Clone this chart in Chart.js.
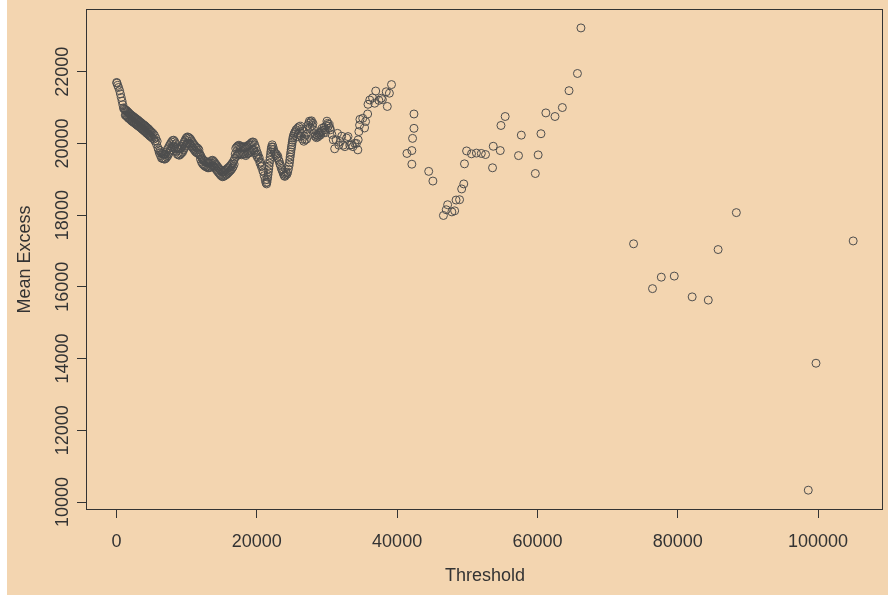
<!DOCTYPE html>
<html>
<head>
<meta charset="utf-8">
<script src="https://cdn.jsdelivr.net/npm/chart.js@4"></script>
<style>
  html, body { margin: 0; padding: 0; background: #fff; }
  #plot { display: block; background: linear-gradient(to right, #ffffff 0px, #ffffff 7px, #f3d5b0 7px); }
</style>
</head>
<body>
<canvas id="plot" width="888" height="595"></canvas>
<script>
// Mean excess plot in pieces (threshold, mean excess)
const thrA = [30, 60, 170, 300, 450, 560, 680, 800, 900, 1000, 1100];
const meA  = [21700, 21680, 21620, 21560, 21470, 21380, 21280, 21180, 21080, 20990, 20960];

const thrB = [
  1200, 1250, 1300, 1350, 1400, 1450, 1500, 1550, 1600, 1650, 1700, 1750,
  1800, 1850, 1900, 1950, 2000, 2050, 2100, 2150, 2200, 2250, 2300, 2350,
  2400, 2450, 2500, 2550, 2600, 2650, 2700, 2750, 2800, 2850, 2900, 2950,
  3000, 3050, 3100, 3150, 3200, 3250, 3300, 3350, 3400, 3450, 3500, 3550,
  3600, 3650, 3700, 3750, 3800, 3850, 3900, 3950, 4000, 4050, 4100, 4150,
  4200, 4250, 4300, 4350, 4400, 4450, 4500, 4550, 4600, 4650, 4700, 4750,
  4800, 4850, 4900, 4950, 5000, 5100, 5200, 5300, 5400, 5500, 5600, 5700,
  5800, 5900, 6000, 6100
];
const meB = [
  20950, 20790, 20930, 20780, 20920, 20760, 20900, 20740, 20880, 20720, 20860, 20700,
  20840, 20690, 20820, 20670, 20800, 20650, 20790, 20630, 20770, 20620, 20760, 20600,
  20740, 20590, 20730, 20570, 20710, 20560, 20700, 20540, 20680, 20530, 20670, 20510,
  20650, 20500, 20640, 20480, 20620, 20470, 20600, 20450, 20590, 20440, 20570, 20420,
  20560, 20400, 20540, 20390, 20520, 20370, 20510, 20350, 20500, 20340, 20480, 20320,
  20460, 20300, 20440, 20280, 20430, 20270, 20410, 20250, 20390, 20230, 20370, 20210,
  20350, 20200, 20330, 20180, 20310, 20150, 20280, 20120, 20230, 20060, 20150, 19980,
  20060, 19880, 19820, 19740
];

const thrC = [
  6200, 6275, 6350, 6425, 6500, 6575, 6650, 6725, 6800, 6875, 6950, 7025,
  7100, 7175, 7250, 7325, 7400, 7475, 7550, 7625, 7700, 7775, 7850, 7925,
  8000, 8075, 8150, 8225, 8300, 8375, 8450, 8525, 8600, 8675, 8750, 8825,
  8900, 8975, 9050, 9125, 9200, 9275, 9350, 9425, 9500, 9575, 9650, 9725,
  9800, 9875, 9950, 10025, 10100, 10175, 10250, 10325, 10400, 10475, 10550, 10625,
  10700, 10775, 10850, 10925, 11000, 11075, 11150, 11225, 11300, 11375, 11450, 11525,
  11600, 11675, 11750, 11825
];
const meC = [
  19800, 19660, 19740, 19590, 19720, 19580, 19700, 19570, 19690, 19560, 19700, 19580,
  19760, 19620, 19830, 19660, 19880, 19720, 19940, 19780, 19990, 19820, 20040, 19880,
  20080, 19920, 20090, 19900, 20050, 19850, 19990, 19780, 19900, 19700, 19860, 19680,
  19840, 19670, 19850, 19700, 19880, 19730, 19920, 19760, 19980, 19820, 20040, 19880,
  20100, 19930, 20150, 19980, 20180, 20010, 20170, 20000, 20150, 19980, 20120, 19940,
  20070, 19900, 20020, 19860, 19980, 19820, 19940, 19780, 19900, 19750, 19880, 19730,
  19860, 19720, 19820, 19680
];

const thrD = [
  11900, 11975, 12050, 12125, 12200, 12275, 12350, 12425, 12500, 12575, 12650, 12725,
  12800, 12875, 12950, 13025, 13100, 13175, 13250, 13325, 13400, 13475, 13550, 13625,
  13700, 13775, 13850, 13925, 14000, 14075, 14150, 14225, 14300, 14375, 14450, 14525,
  14600, 14675, 14750, 14825, 14900, 14975, 15050, 15125, 15200, 15275, 15350, 15425,
  15500, 15575, 15650, 15725, 15800, 15875, 15950, 16025, 16100, 16175, 16250, 16325,
  16400, 16475, 16550, 16625, 16700, 16775, 16850
];
const meD = [
  19700, 19560, 19640, 19480, 19580, 19430, 19540, 19400, 19520, 19370, 19500, 19350,
  19480, 19340, 19460, 19320, 19450, 19320, 19460, 19330, 19490, 19360, 19520, 19380,
  19530, 19380, 19500, 19350, 19460, 19310, 19420, 19270, 19380, 19230, 19340, 19190,
  19300, 19160, 19270, 19120, 19240, 19090, 19210, 19070, 19200, 19080, 19220, 19100,
  19250, 19120, 19270, 19140, 19300, 19170, 19320, 19200, 19350, 19230, 19380, 19260,
  19420, 19300, 19460, 19350, 19510, 19420, 19580
];

const thrE = [
  16925, 17000, 17075, 17150, 17225, 17300, 17375, 17450, 17525, 17600, 17675, 17750,
  17825, 17900, 17975, 18050, 18125, 18200, 18275, 18350, 18425, 18500, 18575, 18650,
  18725, 18800, 18875, 18950, 19025, 19100, 19175, 19250, 19325, 19400, 19475, 19550,
  19625, 19700, 19775, 19850, 19925, 20000, 20075, 20150, 20250, 20350, 20450, 20550,
  20650, 20750, 20850, 20950
];
const meE = [
  19700, 19860, 19640, 19900, 19680, 19930, 19700, 19950, 19720, 19930, 19700, 19900,
  19680, 19890, 19700, 19900, 19710, 19910, 19700, 19880, 19660, 19900, 19700, 19920,
  19720, 19950, 19730, 19960, 19750, 19990, 19780, 20020, 19820, 20040, 19830, 20030,
  19800, 19960, 19740, 19880, 19680, 19780, 19620, 19700, 19560, 19600, 19450, 19480,
  19350, 19370, 19240, 19200
];

const thrF = [
  21050, 21200, 21300, 21400, 21450, 21500, 21550, 21600, 21650, 21700, 21750, 21800,
  21850, 21900, 21950, 22000, 22050, 22100, 22200, 22300, 22400, 22500
];
const meF = [
  19100, 18980, 18900, 18870, 18920, 18990, 19060, 19130, 19210, 19290, 19370, 19450,
  19530, 19610, 19690, 19770, 19840, 19900, 19960, 19900, 19830, 19760
];

const thrG = [
  22600, 22700, 22800, 22900, 23000, 23100, 23200, 23300, 23400, 23500, 23600, 23700,
  23800, 23900, 24000, 24100, 24200, 24300, 24400, 24500, 24600, 24650, 24700, 24750,
  24800, 24850, 24900, 24950, 25000, 25050, 25100, 25150, 25200, 25300, 25400, 25500
];
const meG = [
  19720, 19660, 19700, 19600, 19640, 19540, 19500, 19420, 19380, 19300, 19260, 19200,
  19150, 19100, 19080, 19120, 19180, 19140, 19200, 19280, 19380, 19460, 19540, 19620,
  19690, 19760, 19830, 19900, 19960, 20030, 20090, 20150, 20200, 20260, 20300, 20330
];

const thrH = [
  25600, 25700, 25800, 25900, 26000, 26100, 26200, 26300, 26400, 26500, 26600, 26700,
  26800, 26900, 27000, 27100, 27200, 27300, 27400, 27500, 27600, 27700, 27800, 27900,
  28000, 28100, 28200, 28300, 28400, 28500, 28600, 28700, 28800, 28900, 29000, 29100,
  29200, 29300, 29400, 29500, 29600, 29700, 29800, 29900, 30000, 30100, 30200, 30300,
  30400, 30500
];
const meH = [
  20380, 20180, 20420, 20250, 20460, 20300, 20480, 20200, 20400, 20120, 20350, 20060,
  20200, 20100, 20250, 20120, 20400, 20500, 20560, 20620, 20450, 20600, 20630, 20500,
  20560, 20380, 20280, 20200, 20250, 20160, 20230, 20180, 20280, 20220, 20300, 20240,
  20330, 20420, 20360, 20300, 20450, 20380, 20300, 20500, 20620, 20560, 20480, 20530,
  20430, 20380
];

const thrI = [
  30700, 30900, 31100, 31300, 31500, 31700, 31900, 32100, 32300, 32550, 32800, 33000,
  33250, 33500, 33700, 33950, 34200, 34400, 34450, 34550, 34650, 34700, 35100, 35350,
  35500, 35800, 35850, 36100, 36500, 36800, 36950, 37400, 37750, 37900, 38450, 38600,
  38900, 39200
];
const meI = [
  20250, 20100, 19850, 20100, 20280, 19950, 20050, 20200, 19950, 19910, 20150, 20190,
  19950, 19960, 19910, 20000, 20000, 19820, 20100, 20330, 20510, 20670, 20700, 20430,
  20610, 20820, 21090, 21210, 21270, 21120, 21460, 21200, 21260, 21220, 21440, 21030,
  21400, 21640
];

const thrJ = [
  41400, 42100, 42100, 42200, 42400, 42400, 44500, 45100, 46600, 47000, 47200, 47800,
  48200, 48400, 48900, 49200, 49500, 49600, 49900, 50600, 51300, 52000, 52600, 53600,
  53700, 54700, 54800, 55400, 57300, 57700, 59700, 60100, 60500, 61200, 62500, 63550,
  64500, 65700, 66200
];
const meJ = [
  19720, 19800, 19420, 20140, 20420, 20820, 19220, 18950, 17990, 18150, 18290, 18090,
  18120, 18420, 18430, 18730, 18870, 19430, 19790, 19710, 19730, 19720, 19690, 19320,
  19920, 19800, 20500, 20750, 19660, 20230, 19160, 19680, 20270, 20850, 20750, 21000,
  21470, 21950, 23220
];

const thrK = [73700, 76400, 77650, 79500, 82050, 84350, 85750, 88350, 98600, 99700, 105000];
const meK  = [17200, 15950, 16270, 16300, 15720, 15630, 17040, 18070, 10330, 13870, 17280];

const xTicks = [0, 20000, 40000, 60000, 80000, 100000];
const yTicks = [10000, 12000, 14000, 16000, 18000, 20000, 22000];

const threshold = [].concat(thrA, thrB, thrC, thrD, thrE, thrF, thrG, thrH, thrI, thrJ, thrK);
const meanExcess = [].concat(meA, meB, meC, meD, meE, meF, meG, meH, meI, meJ, meK);
if (threshold.length !== meanExcess.length) {
  console.error('length mismatch', threshold.length, meanExcess.length);
}
const points = threshold.map((t, i) => ({ x: t, y: meanExcess[i] }));

const fontFamily = "'Liberation Sans', Arial, sans-serif";
const ink = '#333333';

// R style box around the plot region
const boxPlugin = {
  id: 'box',
  afterDraw(chart) {
    const { ctx, chartArea: a } = chart;
    ctx.save();
    ctx.strokeStyle = ink;
    ctx.lineWidth = 1;
    ctx.strokeRect(a.left - 0.5, a.top - 0.5, a.right - a.left, a.bottom - a.top + 1);
    ctx.restore();
  }
};

new Chart(document.getElementById('plot'), {
  type: 'scatter',
  data: {
    datasets: [{
      data: points,
      pointStyle: 'circle',
      pointRadius: 4,
      pointHoverRadius: 4,
      borderColor: '#4d4d4d',
      backgroundColor: 'rgba(0,0,0,0)',
      pointBorderWidth: 1
    }]
  },
  options: {
    responsive: false,
    animation: false,
    devicePixelRatio: 1,
    events: [],
    layout: { padding: { left: 0, top: 10, right: 4, bottom: 0 } },
    plugins: {
      legend: { display: false },
      tooltip: { enabled: false }
    },
    scales: {
      x: {
        type: 'linear',
        min: -4200,
        max: 109250,
        afterBuildTicks: s => { s.ticks = xTicks.map(v => ({ value: v })); },
        afterFit: s => { s.height = 86; },
        ticks: {
          callback: v => String(v),
          color: ink,
          font: { family: fontFamily, size: 18 },
          padding: 13,
          maxRotation: 0,
          autoSkip: false
        },
        grid: { drawOnChartArea: false, drawTicks: true, tickLength: 9, color: ink },
        border: { display: false },
        title: {
          display: true,
          text: 'Threshold',
          color: ink,
          font: { family: fontFamily, size: 18 },
          padding: { top: 0, bottom: 8 }
        }
      },
      y: {
        type: 'linear',
        min: 9805,
        max: 23720,
        afterBuildTicks: s => { s.ticks = yTicks.map(v => ({ value: v })); },
        afterFit: s => { s.width = 87; },
        ticks: {
          callback: v => String(v),
          color: ink,
          font: { family: fontFamily, size: 18 },
          minRotation: 90,
          maxRotation: 90,
          crossAlign: 'center',
          padding: -11,
          autoSkip: false
        },
        grid: { drawOnChartArea: false, drawTicks: true, tickLength: 10, color: ink },
        border: { display: false },
        title: {
          display: true,
          text: 'Mean Excess',
          color: ink,
          font: { family: fontFamily, size: 18 },
          padding: { top: 14, bottom: 0 }
        }
      }
    }
  },
  plugins: [boxPlugin]
});
</script>
</body>
</html>
